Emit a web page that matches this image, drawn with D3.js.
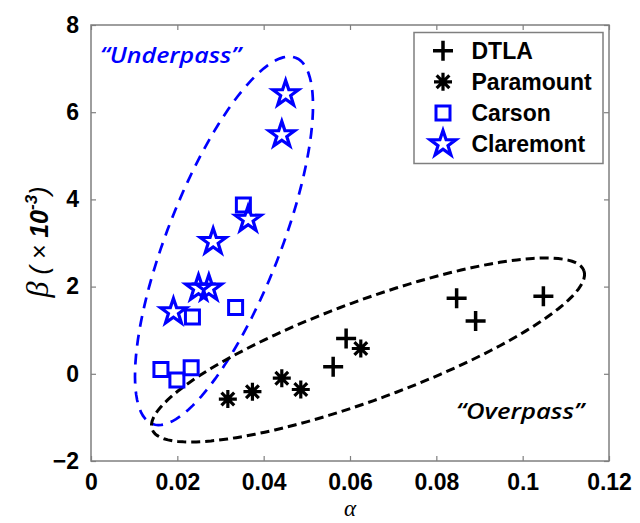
<!DOCTYPE html>
<html><head><meta charset="utf-8">
<script src="https://cdn.jsdelivr.net/npm/d3@7"></script>
<style>body{margin:0;background:#fff}svg{display:block}</style>
</head><body><svg id="c" width="640" height="523"></svg>
<script>
// ---- data ----
const dtlaX = [0.0561, 0.0591, 0.0847, 0.0891, 0.1048];
const dtlaY = [0.16, 0.81, 1.73, 1.21, 1.78];
const paraX = [0.0317, 0.0374, 0.0442, 0.0486, 0.0625];
const paraY = [-0.58, -0.41, -0.10, -0.36, 0.58];
const carsonX = [0.0162, 0.0199, 0.0232, 0.0235, 0.0335, 0.0353];
const carsonY = [0.10, -0.14, 0.14, 1.30, 1.52, 3.87];
const clareX = [0.0451, 0.0442, 0.0364, 0.0283, 0.0249, 0.0273, 0.0191];
const clareY = [6.42, 5.48, 3.54, 3.03, 1.96, 1.96, 1.42];
const seriesNames = ["DTLA", "Paramount", "Carson", "Claremont"];
const xTicks = [0, 0.02, 0.04, 0.06, 0.08, 0.1, 0.12];
const xTickLabels = ["0", "0.02", "0.04", "0.06", "0.08", "0.1", "0.12"];
const yTicks = [-2, 0, 2, 4, 6, 8];
// ellipse annotations (data units): centre and two conjugate semi-axis vectors
const underEllipse = {cx: 0.03081, cy: 3.05, ux: 0.01660, uy: 4.20, vx: 0.01223, vy: -0.4725};
const overEllipse  = {cx: 0.06417, cy: 0.546, ux: 0.05001, uy: 1.821, vx: 0.003959, vy: -1.0656};

// ---- layout ----
const svg = d3.select("#c");
const L = 91, R = 609, T = 25, B = 461;
const x = d3.scaleLinear().domain([0, 0.12]).range([L, R]);
const y = d3.scaleLinear().domain([-2, 8]).range([B, T]);
const gray = "#7f7f7f";

// axes
const tickFont = "'Liberation Sans', Arial, sans-serif";
const gx = svg.append("g").attr("transform", `translate(0,${B})`)
  .call(d3.axisBottom(x).tickValues(xTicks).tickFormat((d, i) => xTickLabels[i]).tickSizeInner(-5).tickSizeOuter(0).tickPadding(12));
const gy = svg.append("g").attr("transform", `translate(${L},0)`)
  .call(d3.axisLeft(y).tickValues(yTicks).tickFormat(d3.format("d")).tickSizeInner(-5).tickSizeOuter(0).tickPadding(12));
const gt = svg.append("g").attr("transform", `translate(0,${T})`)
  .call(d3.axisTop(x).tickValues(xTicks).tickFormat("").tickSizeInner(-5).tickSizeOuter(0));
const gr = svg.append("g").attr("transform", `translate(${R},0)`)
  .call(d3.axisRight(y).tickValues(yTicks).tickFormat("").tickSizeInner(-5).tickSizeOuter(0));
[gx, gy, gt, gr].forEach(g => {
  g.select(".domain").remove();
  g.selectAll(".tick line").attr("stroke", gray).attr("stroke-width", 1.2);
  g.selectAll(".tick text").attr("fill", "#000").style("font-family", tickFont)
    .style("font-weight", "bold").style("font-size", "23px");
});
gx.selectAll(".tick text").attr("dy", "0.72em");
svg.append("rect").attr("x", L).attr("y", T).attr("width", R - L).attr("height", B - T)
  .attr("fill", "none").attr("stroke", gray).attr("stroke-width", 1.5);

// ellipses
function ellipsePts(e) {
  return d3.range(0, 361, 3).map(a => {
    const t = a * Math.PI / 180;
    return [e.cx + e.ux * Math.cos(t) + e.vx * Math.sin(t), e.cy + e.uy * Math.cos(t) + e.vy * Math.sin(t)];
  });
}
const line = d3.line().x(d => x(d[0])).y(d => y(d[1])).curve(d3.curveLinear);
svg.append("path").attr("d", line(ellipsePts(underEllipse))).attr("fill", "none")
  .attr("stroke", "#0000ff").attr("stroke-width", 2.7).attr("stroke-dasharray", "11,8");
svg.append("path").attr("d", line(ellipsePts(overEllipse))).attr("fill", "none")
  .attr("stroke", "#000").attr("stroke-width", 3).attr("stroke-dasharray", "9,5");

// markers
const plusPath = "M-10,0H10M0,-10V10";
const astPath = (() => { let p = ""; [0, 45, 90, 135].forEach(a => { const r = a * Math.PI / 180, c = Math.cos(r) * 9, s = Math.sin(r) * 9; p += `M${-c},${-s}L${c},${s}`; }); return p; })();
const sqPath = "M-7,-7H7V7H-7Z";
const starPath = (() => { const Ro = 13.5, Ri = 13.5 * 0.39; let pts = []; for (let i = 0; i < 10; i++) { const rr = i % 2 ? Ri : Ro; const a = -Math.PI / 2 + i * Math.PI / 5; pts.push([rr * Math.cos(a), rr * Math.sin(a)]); } return "M" + pts.map(p => p.join(",")).join("L") + "Z"; })();
const markers = [
  {path: plusPath, color: "#000", sw: 3.5, xs: dtlaX, ys: dtlaY},
  {path: astPath, color: "#000", sw: 3.2, xs: paraX, ys: paraY},
  {path: sqPath, color: "#0000ff", sw: 3, xs: carsonX, ys: carsonY},
  {path: starPath, color: "#0000ff", sw: 3.2, xs: clareX, ys: clareY}
];
markers.forEach(m => {
  svg.append("g").selectAll("path").data(m.xs.map((v, i) => [v, m.ys[i]])).join("path")
    .attr("d", m.path).attr("transform", d => `translate(${x(d[0])},${y(d[1])})`)
    .attr("fill", "none").attr("stroke", m.color).attr("stroke-width", m.sw)
    .attr("stroke-linejoin", "miter");
});

// legend
const lg = svg.append("g");
lg.append("rect").attr("x", 414).attr("y", 32.5).attr("width", 189).attr("height", 131)
  .attr("fill", "#fff").attr("stroke", gray).attr("stroke-width", 1.5);
seriesNames.forEach((n, i) => {
  const cy = 50.7 + i * 31.1;
  lg.append("path").attr("d", markers[i].path).attr("transform", `translate(443,${cy})`)
    .attr("fill", "none").attr("stroke", markers[i].color).attr("stroke-width", markers[i].sw);
  lg.append("text").attr("x", 471.5).attr("y", cy + 8).text(n)
    .style("font-family", tickFont).style("font-weight", "bold").style("font-size", "23px");
});

// annotations
svg.append("text").attr("x", 100).attr("y", 63).text("\u201CUnderpass\u201D")
  .attr("fill", "#0000ff").style("font-family", "'Open Sans', Lato, sans-serif")
  .style("font-style", "italic").style("font-weight", "600").style("font-size", "22px")
  .attr("textLength", 141).attr("lengthAdjust", "spacingAndGlyphs");
svg.append("text").attr("x", 456).attr("y", 419).text("\u201COverpass\u201D")
  .attr("fill", "#000").style("font-family", "'Open Sans', Lato, sans-serif")
  .style("font-style", "italic").style("font-weight", "600").style("font-size", "22px")
  .attr("textLength", 128).attr("lengthAdjust", "spacingAndGlyphs");

// axis labels
svg.append("text").attr("x", (L + R) / 2).attr("y", 516).attr("text-anchor", "middle")
  .style("font-family", "'Liberation Serif', 'Times New Roman', serif").style("font-style", "italic")
  .style("font-size", "23px").text("\u03B1");
const yl = svg.append("text").attr("transform", `translate(48,242) rotate(-90)`).attr("text-anchor", "middle")
  .style("font-family", "'Liberation Sans', Arial, sans-serif").style("font-style", "italic").style("font-size", "25px");
yl.append("tspan").style("font-family", "'Liberation Serif', 'Times New Roman', serif").style("font-size", "32px").text("\u03B2");
yl.append("tspan").text(" ( \u00D7 ");
yl.append("tspan").style("font-weight", "bold").text("10");
yl.append("tspan").attr("dy", -11).style("font-weight", "bold").style("font-size", "17px").text("-3");
yl.append("tspan").attr("dy", 11).text(")");
</script></body></html>
